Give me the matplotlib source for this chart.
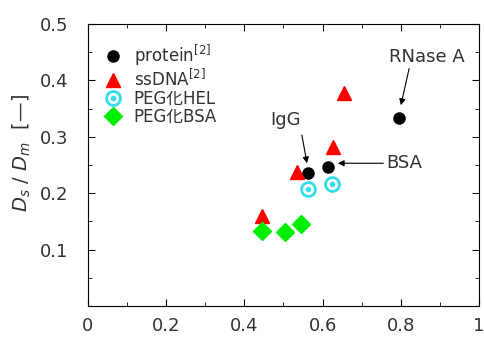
import matplotlib
matplotlib.use("Agg")
import matplotlib.pyplot as plt
from matplotlib.ticker import MultipleLocator

plt.rcParams['font.family'] = ['DejaVu Sans', 'Noto Sans CJK JP']
plt.rcParams['mathtext.fontset'] = 'dejavusans'

# data
protein_x = [0.563, 0.614, 0.795]
protein_y = [0.235, 0.246, 0.334]
ssdna_x = [0.655, 0.627, 0.535, 0.445]
ssdna_y = [0.377, 0.281, 0.237, 0.159]
peg_hel_x = [0.563, 0.624]
peg_hel_y = [0.207, 0.216]
peg_bsa_x = [0.445, 0.504, 0.545]
peg_bsa_y = [0.133, 0.131, 0.145]

labels = ['protein$^{\\mathregular{[2]}}$', 'ssDNA$^{\\mathregular{[2]}}$', 'PEG化HEL', 'PEG化BSA']
xticks = [0, 0.2, 0.4, 0.6, 0.8, 1.0]
xticklabels = ['0', '0.2', '0.4', '0.6', '0.8', '1']
yticks = [0.1, 0.2, 0.3, 0.4, 0.5]
yticklabels = ['0.1', '0.2', '0.3', '0.4', '0.5']

txt = '#333333'

fig = plt.figure(figsize=(4.85, 3.38), dpi=100)
ax = fig.add_axes([0.181, 0.095, 0.807, 0.834])

h1, = ax.plot(protein_x, protein_y, 'o', color='black', ms=8, ls='none')
h2, = ax.plot(ssdna_x, ssdna_y, '^', color='#ff0000', ms=10, ls='none')
h3a, = ax.plot(peg_hel_x, peg_hel_y, 'o', mfc='white', mec='#33ddee', mew=2, ms=10, ls='none')
h3b, = ax.plot(peg_hel_x, peg_hel_y, 'o', color='#33ddee', ms=3, ls='none')
h4, = ax.plot(peg_bsa_x, peg_bsa_y, 'D', color='#00ee00', ms=9, ls='none')

ax.legend([h1, h2, (h3a, h3b), h4], labels, loc='upper left', bbox_to_anchor=(0.0, 0.975),
          frameon=False, fontsize=12, handletextpad=0.45, labelspacing=0.02,
          labelcolor=txt, borderaxespad=0.3, handlelength=1.6)

# annotations: arrows (tail -> tip) and labels
arrow = dict(arrowstyle='-|>', color='black', lw=0.8, mutation_scale=9, shrinkA=0, shrinkB=0)
ax.annotate('', xy=(0.800, 0.356), xytext=(0.821, 0.421), arrowprops=arrow)
ax.text(0.867, 0.441, 'RNase A', fontsize=13, color=txt, ha='center', va='center')
ax.annotate('', xy=(0.560, 0.253), xytext=(0.547, 0.303), arrowprops=arrow)
ax.text(0.504, 0.329, 'IgG', fontsize=13, color=txt, ha='center', va='center')
ax.annotate('', xy=(0.639, 0.253), xytext=(0.755, 0.253), arrowprops=arrow)
ax.text(0.762, 0.253, 'BSA', fontsize=13, color=txt, ha='left', va='center')

ax.set_xlim(0, 1)
ax.set_ylim(0, 0.5)
ax.set_xticks(xticks)
ax.set_xticklabels(xticklabels)
ax.set_yticks(yticks)
ax.set_yticklabels(yticklabels)
ax.xaxis.set_minor_locator(MultipleLocator(0.1))
ax.yaxis.set_minor_locator(MultipleLocator(0.05))
ax.tick_params(which='both', direction='in', top=True, right=True, labelsize=13,
               labelcolor=txt)
ax.tick_params(axis='x', pad=8)
ax.tick_params(axis='y', pad=14)
ax.tick_params(which='major', length=5)
ax.tick_params(which='minor', length=3)
ax.set_ylabel('$D_s$ / $D_m$  [—]', fontsize=14, color=txt, va='center')
ax.yaxis.set_label_coords(-0.169, 0.543)

fig.savefig('out.png', dpi=100)
